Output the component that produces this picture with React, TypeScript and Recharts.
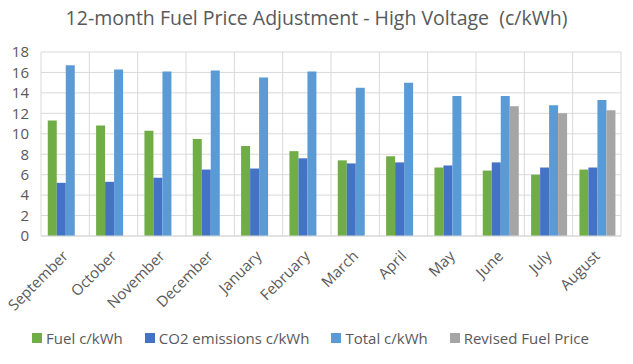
import { BarChart, Bar, XAxis, YAxis, CartesianGrid, Legend } from 'recharts';

const months = [
  'September', 'October', 'November', 'December', 'January', 'February',
  'March', 'April', 'May', 'June', 'July', 'August',
];
const fuel = [11.3, 10.8, 10.3, 9.5, 8.8, 8.3, 7.4, 7.8, 6.7, 6.4, 6.0, 6.5];
const co2 = [5.2, 5.3, 5.7, 6.5, 6.6, 7.6, 7.1, 7.2, 6.9, 7.2, 6.7, 6.7];
const total = [16.7, 16.3, 16.1, 16.2, 15.5, 16.1, 14.5, 15.0, 13.7, 13.7, 12.8, 13.3];
const revised = [null, null, null, null, null, null, null, null, null, 12.7, 12.0, 12.3];
const yTicks = [0, 2, 4, 6, 8, 10, 12, 14, 16, 18];

const series = [
  { key: 'fuel', name: 'Fuel c/kWh', color: '#70AD47' },
  { key: 'co2', name: 'CO2 emissions c/kWh', color: '#4472C4' },
  { key: 'total', name: 'Total c/kWh', color: '#5B9BD5' },
  { key: 'revised', name: 'Revised Fuel Price', color: '#A5A5A5' },
];

const data = months.map((m, i) => ({
  month: m,
  fuel: fuel[i],
  co2: co2[i],
  total: total[i],
  revised: revised[i],
}));

const FONT = '"Open Sans", sans-serif';
const TEXT = '#595959';

// rotated month labels like Excel's -45deg axis text
function MonthTick({ x, y, payload }: any) {
  const ax = x + 4;
  const ay = y + 13;
  return (
    <text
      x={ax}
      y={ay}
      transform={`rotate(-45 ${ax} ${ay})`}
      textAnchor="end"
      fontSize={15}
      fontFamily={FONT}
      fill={TEXT}
    >
      {payload.value}
    </text>
  );
}

function LegendContent() {
  return (
    <div style={{ display: 'flex', justifyContent: 'center', gap: 22, fontFamily: FONT, fontSize: 15, color: TEXT, lineHeight: '20px' }}>
      {series.map((s) => (
        <div key={s.key} style={{ display: 'flex', alignItems: 'center' }}>
          <span style={{ width: 10, height: 10, background: s.color, display: 'inline-block', marginRight: 4 }} />
          <span>{s.name}</span>
        </div>
      ))}
    </div>
  );
}

export default function App() {
  return (
    <div style={{ position: 'absolute', left: 0, top: 0, width: 633, height: 364, background: '#fff' }}>
      <div
        style={{
          position: 'absolute',
          top: 4,
          width: 633,
          textAlign: 'center',
          fontFamily: FONT,
          fontSize: 19.5,
          color: TEXT,
        }}
      >
        12-month Fuel Price Adjustment - High Voltage&nbsp; (c/kWh)
      </div>
      <BarChart
        width={633}
        height={364}
        data={data}
        margin={{ top: 52, right: 12, left: 0, bottom: 16 }}
        barCategoryGap="14%"
        barGap={0}
      >
        <CartesianGrid
          stroke="#D9D9D9"
          verticalCoordinatesGenerator={({ offset }: any) =>
            months.map((_, i) => offset.left + (i * offset.width) / months.length).concat(offset.left + offset.width)
          }
        />
        <XAxis
          dataKey="month"
          interval={0}
          tickLine={false}
          axisLine={{ stroke: '#D9D9D9' }}
          tick={<MonthTick />}
          height={92}
        />
        <YAxis
          domain={[0, 18]}
          ticks={yTicks}
          interval={0}
          width={41}
          axisLine={false}
          tickLine={false}
          tick={{ fontSize: 15, fontFamily: FONT, fill: TEXT }}
          tickMargin={6}
        />
        <Legend verticalAlign="bottom" height={20} content={<LegendContent />} />
        {series.map((s) => (
          <Bar key={s.key} dataKey={s.key} name={s.name} fill={s.color} isAnimationActive={false} />
        ))}
      </BarChart>
    </div>
  );
}
